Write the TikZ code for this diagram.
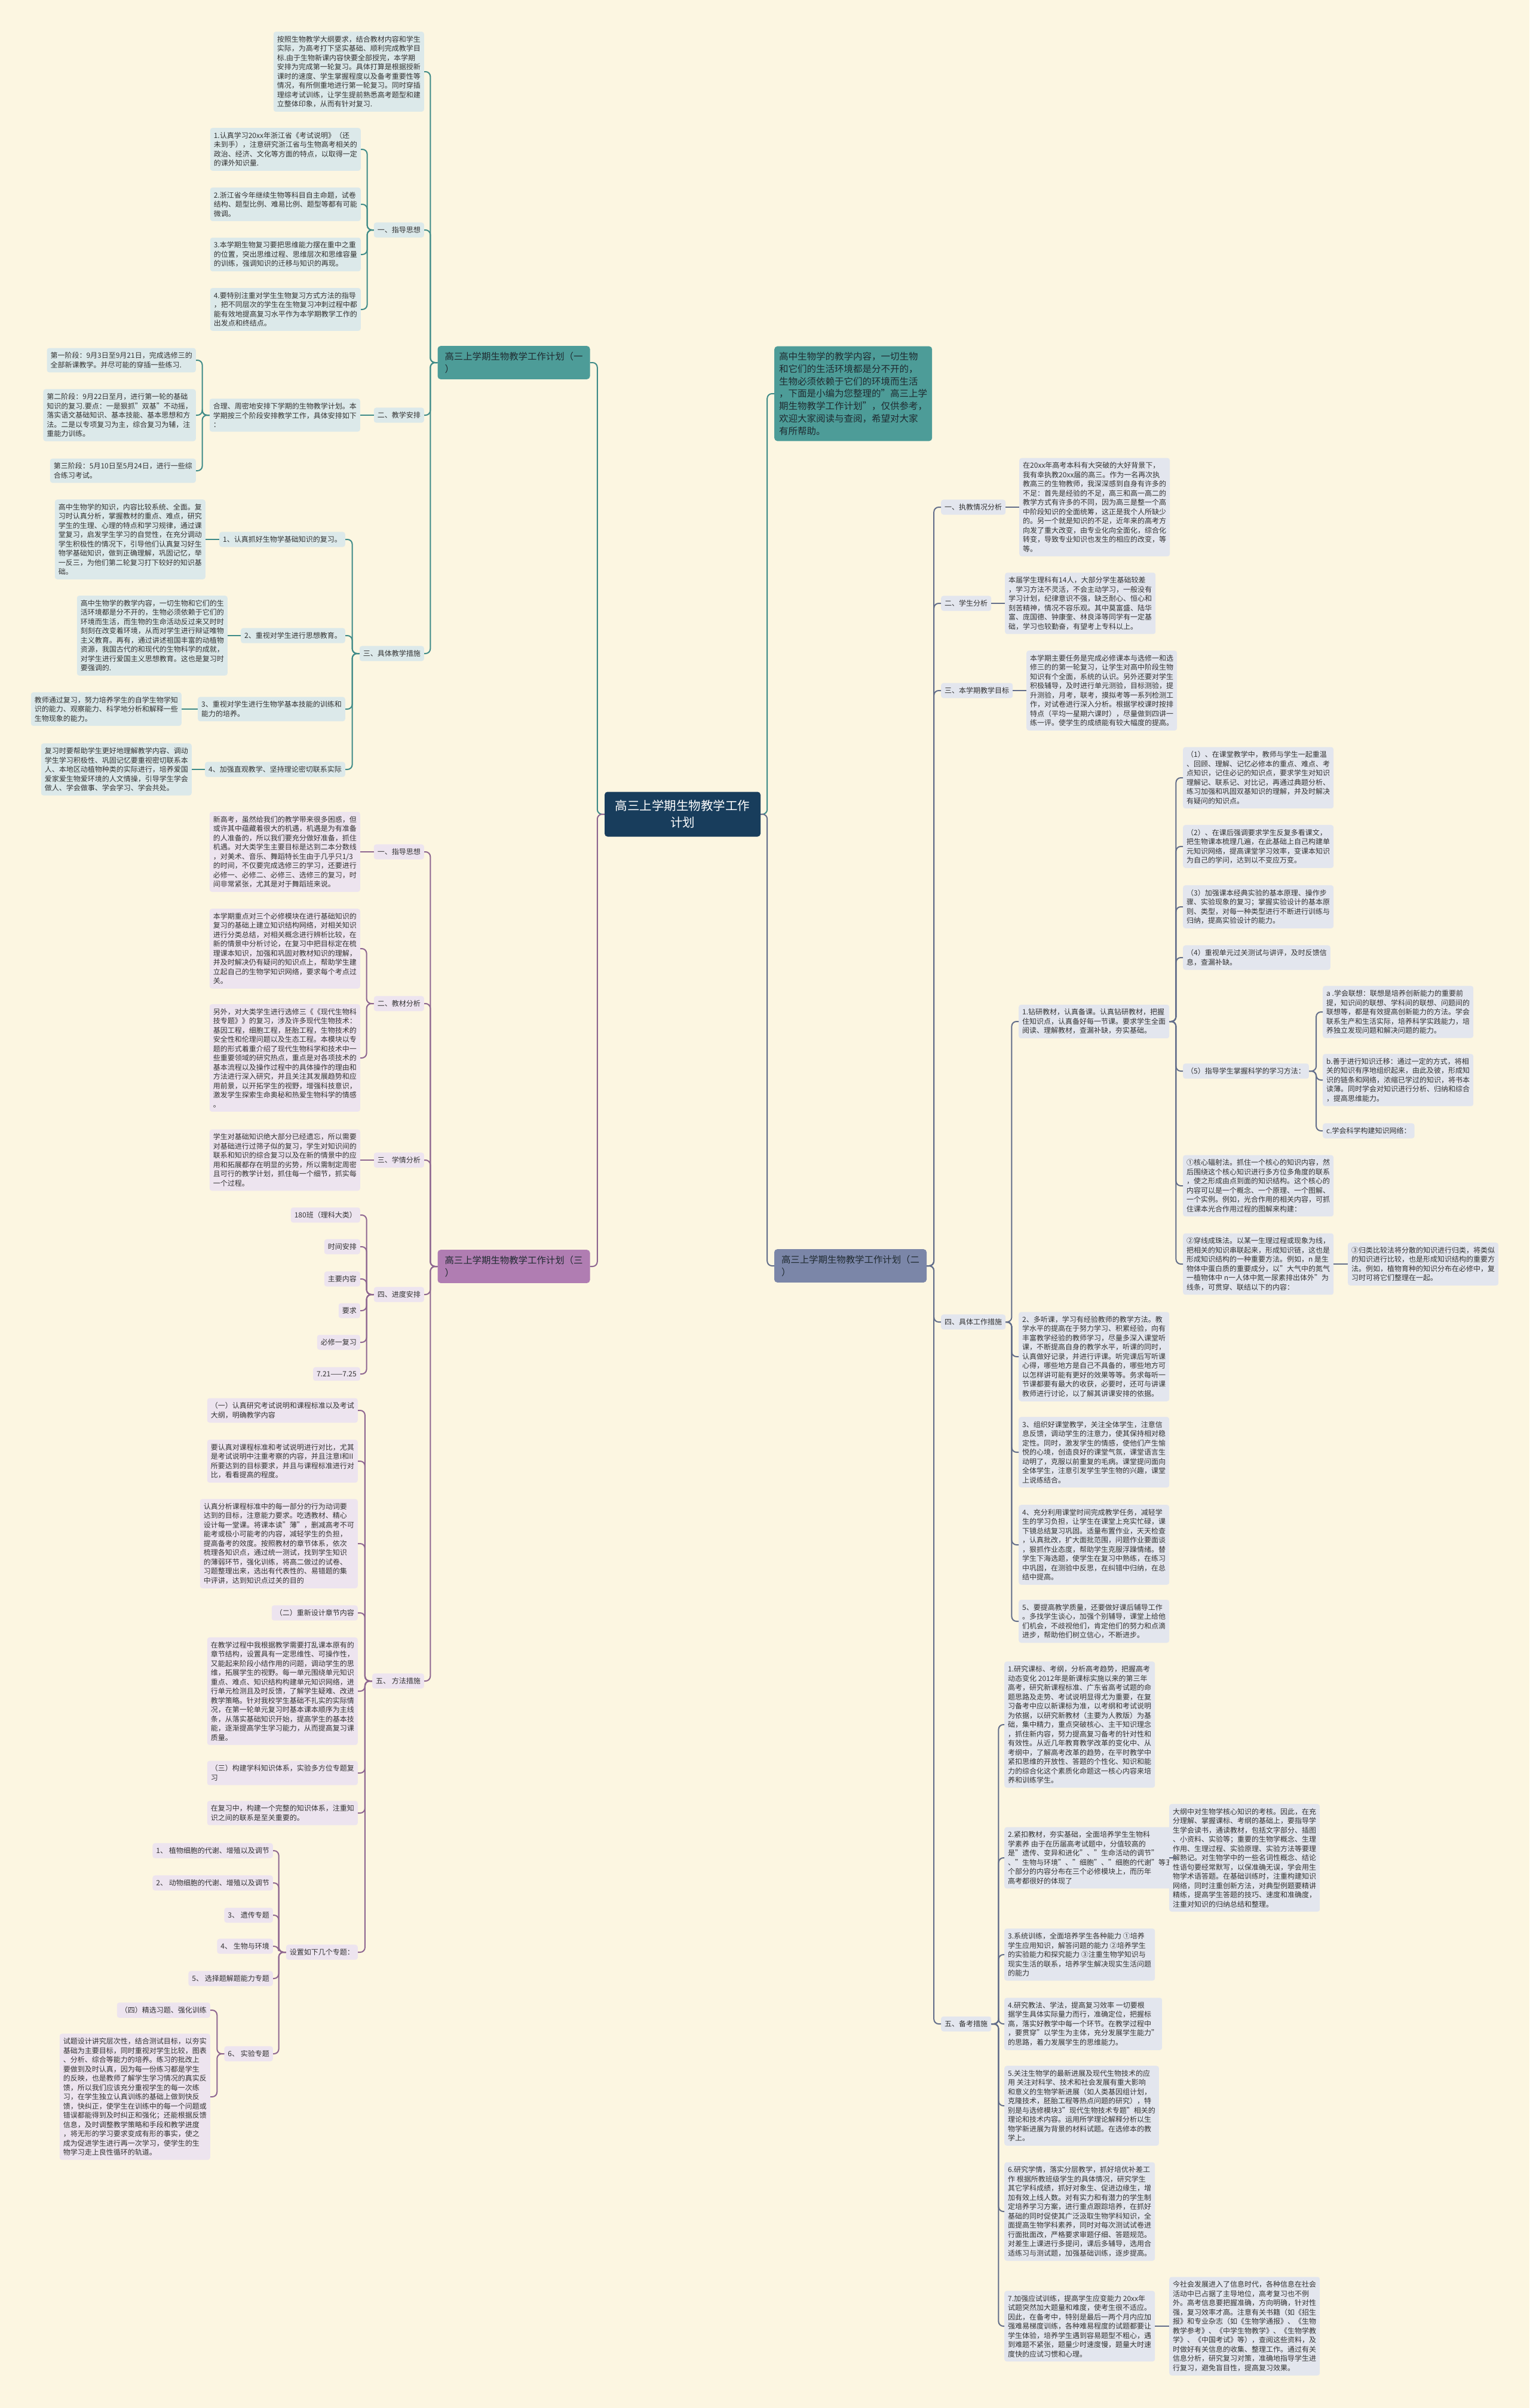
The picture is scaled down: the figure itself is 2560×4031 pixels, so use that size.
\documentclass[tikz,border=0pt]{standalone}
\usepackage{fontspec}
\setmainfont{Noto Sans CJK SC}
\definecolor{bgc}{HTML}{FCF6E1}
\definecolor{rootc}{HTML}{183D5C}
\definecolor{tealc}{HTML}{4D9C98}
\definecolor{teall}{HTML}{3F8B88}
\definecolor{tealf}{HTML}{DCE9EA}
\definecolor{purpc}{HTML}{B07DB2}
\definecolor{purpl}{HTML}{8E6690}
\definecolor{purpf}{HTML}{EDE4EF}
\definecolor{slatec}{HTML}{7B86A8}
\definecolor{slatel}{HTML}{636E8A}
\definecolor{slatef}{HTML}{E3E6EE}
\definecolor{inkc}{HTML}{333333}
\definecolor{darkc}{HTML}{1F2A30}
\tikzset{
  leaf/.style={rounded corners=4pt, inner xsep=6pt, inner ysep=7pt, align=left, text=inkc,
    font=\fontsize{12pt}{15.5pt}\selectfont},
  leafT/.style={leaf, fill=tealf},
  leafP/.style={leaf, fill=purpf},
  leafS/.style={leaf, fill=slatef},
  mainbox/.style={rounded corners=5pt, inner xsep=8pt, inner ysep=10pt, align=left, text=darkc,
    minimum width=255pt, font=\fontsize{15.4pt}{21pt}\selectfont},
  rootbox/.style={rounded corners=5pt, fill=rootc, text=white, align=center, minimum width=261pt,
    minimum height=75pt, font=\fontsize{20.5pt}{28pt}\selectfont},
  ln/.style={line width=2pt, rounded corners=8pt},
  lnT/.style={ln, draw=teall},
  lnP/.style={ln, draw=purpl},
  lnS/.style={ln, draw=slatel}
}
\begin{document}
\begin{tikzpicture}[x=1pt, y=-1pt]
\fill[bgc] (0,0) rectangle (2560,4031);
\useasboundingbox (0,0) rectangle (2560,4031);

% centre and main branches
\node[rootbox] (root) at (1142.5,1363) {高三上学期生物教学工作\\计划};
\node[mainbox, fill=tealc] (b1) at (860,607) {高三上学期生物教学工作计划（一\\）};
\node[mainbox, fill=purpc] (b3) at (860,2120) {高三上学期生物教学工作计划（三\\）};
\node[mainbox, fill=slatec] (b2) at (1423.5,2119) {高三上学期生物教学工作计划（二\\）};
\node[mainbox, fill=tealc, anchor=west, font=\fontsize{15.5pt}{20.7pt}\selectfont] (intro) at (1296,659) {高中生物学的教学内容，一切生物\\和它们的生活环境都是分不开的，\\生物必须依赖于它们的环境而生活\\，下面是小编为您整理的"高三上学\\期生物教学工作计划"，仅供参考，\\欢迎大家阅读与查阅，希望对大家\\有所帮助。};

% plan one
\node[leafT, anchor=east] (t1) at (710,120) {按照生物教学大纲要求，结合教材内容和学生\\实际，为高考打下坚实基础、顺利完成教学目\\标.由于生物新课内容快要全部授完，本学期\\安排为完成第一轮复习。具体打算是根据授新\\课时的速度、学生掌握程度以及备考重要性等\\情况，有所侧重地进行第一轮复习。同时穿插\\理综考试训练，让学生提前熟悉高考题型和建\\立整体印象，从而有针对复习.};
\node[leafT, anchor=east] (g1) at (710,385) {一、指导思想};
\node[leafT, anchor=east] (g2) at (710,695) {二、教学安排};
\node[leafT, anchor=east] (g3) at (710,1094) {三、具体教学措施};
\node[leafT, anchor=east] (i1) at (604,250) {1.认真学习20xx年浙江省《考试说明》（还\\未到手），注意研究浙江省与生物高考相关的\\政治、经济、文化等方面的特点，以取得一定\\的课外知识量.};
\node[leafT, anchor=east] (i2) at (604,342) {2.浙江省今年继续生物等科目自主命题，试卷\\结构、题型比例、难易比例、题型等都有可能\\微调。};
\node[leafT, anchor=east] (i3) at (604,426) {3.本学期生物复习要把思维能力摆在重中之重\\的位置，突出思维过程、思维层次和思维容量\\的训练，强调知识的迁移与知识的再现。};
\node[leafT, anchor=east] (i4) at (604,518) {4.要特别注重对学生生物复习方式方法的指导\\，把不同层次的学生在生物复习冲刺过程中都\\能有效地提高复习水平作为本学期教学工作的\\出发点和终结点。};
\node[leafT, anchor=east] (s0) at (603,695) {合理、周密地安排下学期的生物教学计划。本\\学期按三个阶段安排教学工作，具体安排如下\\：};
\node[leafT, anchor=east] (st1) at (328,603) {第一阶段：9月3日至9月21日，完成选修三的\\全部新课教学。并尽可能的穿插一些练习.};
\node[leafT, anchor=east] (st2) at (328,695) {第二阶段：9月22日至月，进行第一轮的基础\\知识的复习.要点：一是狠抓"双基"不动摇，\\落实语文基础知识、基本技能、基本思想和方\\法。二是以专项复习为主，综合复习为辅，注\\重能力训练。};
\node[leafT, anchor=east] (st3) at (328,788) {第三阶段：5月10日至5月24日，进行一些综\\合练习考试。};
\node[leafT, anchor=east] (m1) at (578,903) {1、认真抓好生物学基础知识的复习。};
\node[leafT, anchor=east] (m2) at (578,1064) {2、重视对学生进行思想教育。};
\node[leafT, anchor=east] (m3) at (578,1187) {3、重视对学生进行生物学基本技能的训练和\\能力的培养。};
\node[leafT, anchor=east] (m4) at (578,1288) {4、加强直观教学、坚持理论密切联系实际};
\node[leafT, anchor=east] (m1t) at (344,903) {高中生物学的知识，内容比较系统、全面。复\\习时认真分析，掌握教材的重点、难点，研究\\学生的生理、心理的特点和学习规律，通过课\\堂复习，启发学生学习的自觉性，在充分调动\\学生积极性的情况下，引导他们认真复习好生\\物学基础知识，做到正确理解，巩固记忆，举\\一反三，为他们第二轮复习打下较好的知识基\\础。};
\node[leafT, anchor=east] (m2t) at (381,1064) {高中生物学的教学内容，一切生物和它们的生\\活环境都是分不开的，生物必须依赖于它们的\\环境而生活，而生物的生命活动反过来又时时\\刻刻在改变着环境，从而对学生进行辩证唯物\\主义教育。再有，通过讲述祖国丰富的动植物\\资源，我国古代的和现代的生物科学的成就，\\对学生进行爱国主义思想教育。这也是复习时\\要强调的.};
\node[leafT, anchor=east] (m3t) at (304,1187) {教师通过复习，努力培养学生的自学生物学知\\识的能力、观察能力、科学地分析和解释一些\\生物现象的能力。};
\node[leafT, anchor=east] (m4t) at (321,1288) {复习时要帮助学生更好地理解教学内容、调动\\学生学习积极性、巩固记忆要重视密切联系本\\人、本地区动植物种类的实际进行，培养爱国\\爱家爱生物爱环境的人文情操，引导学生学会\\做人、学会做事、学会学习、学会共处。};

% plan three
\node[leafP, anchor=east] (h1) at (710,1426) {一、指导思想};
\node[leafP, anchor=east] (h2) at (710,1680) {二、教材分析};
\node[leafP, anchor=east] (h3) at (710,1942) {三、学情分析};
\node[leafP, anchor=east] (h4) at (710,2167) {四、进度安排};
\node[leafP, anchor=east] (h5) at (710,2814) {五、\ 方法措施};
\node[leafP, anchor=east] (h1t) at (603,1426) {新高考，虽然给我们的教学带来很多困惑，但\\或许其中蕴藏着很大的机遇，机遇是为有准备\\的人准备的，所以我们要充分做好准备，抓住\\机遇。对大类学生主要目标是达到二本分数线\\，对美术、音乐、舞蹈特长生由于几乎只1/3\\的时间，不仅要完成选修三的学习，还要进行\\必修一、必修二、必修三、选修三的复习，时\\间非常紧张，尤其是对于舞蹈班来说。};
\node[leafP, anchor=east] (h2a) at (603,1588) {本学期重点对三个必修模块在进行基础知识的\\复习的基础上建立知识结构网络，对相关知识\\进行分类总结，对相关概念进行辨析比较，在\\新的情景中分析讨论，在复习中把目标定在梳\\理课本知识，加强和巩固对教材知识的理解，\\并及时解决仍有疑问的知识点上，帮助学生建\\立起自己的生物学知识网络，要求每个考点过\\关。};
\node[leafP, anchor=east] (h2b) at (603,1771) {另外，对大类学生进行选修三《《现代生物科\\技专题》》的复习，涉及许多现代生物技术：\\基因工程，细胞工程，胚胎工程，生物技术的\\安全性和伦理问题以及生态工程。本模块以专\\题的形式着重介绍了现代生物科学和技术中一\\些重要领域的研究热点，重点是对各项技术的\\基本流程以及操作过程中的具体操作的理由和\\方法进行深入研究，并且关注其发展趋势和应\\用前景，以开拓学生的视野，增强科技意识，\\激发学生探索生命奥秘和热爱生物科学的情感\\。};
\node[leafP, anchor=east] (h3t) at (603,1942) {学生对基础知识绝大部分已经遗忘，所以需要\\对基础进行过筛子似的复习，学生对知识间的\\联系和知识的综合复习以及在新的情景中的应\\用和拓展都存在明显的劣势，所以需制定周密\\且可行的教学计划，抓住每一个细节，抓实每\\一个过程。};
\node[leafP, anchor=east] (j1) at (603,2034) {180班（理科大类）};
\node[leafP, anchor=east] (j2) at (603,2087) {时间安排};
\node[leafP, anchor=east] (j3) at (603,2141) {主要内容};
\node[leafP, anchor=east] (j4) at (603,2194) {要求};
\node[leafP, anchor=east] (j5) at (603,2247) {必修一复习};
\node[leafP, anchor=east] (j6) at (603,2300) {7.21——7.25};
\node[leafP, anchor=east] (p1) at (599,2361) {（一）认真研究考试说明和课程标准以及考试\\大纲，明确教学内容};
\node[leafP, anchor=east] (p2) at (599,2446) {要认真对课程标准和考试说明进行对比，尤其\\是考试说明中注重考察的内容，并且注意I和II\\所要达到的目标要求，并且与课程标准进行对\\比，看看提高的程度。};
\node[leafP, anchor=east] (p3) at (599,2584) {认真分析课程标准中的每一部分的行为动词要\\达到的目标，注意能力要求。吃透教材、精心\\设计每一堂课。将课本读"薄"，删减高考不可\\能考或极小可能考的内容，减轻学生的负担，\\提高备考的效度。按照教材的章节体系，依次\\梳理各知识点，通过统一测试，找到学生知识\\的薄弱环节，强化训练，将高二做过的试卷、\\习题整理出来，选出有代表性的、易错题的集\\中评讲，达到知识点过关的目的};
\node[leafP, anchor=east] (p4) at (599,2700) {（二）重新设计章节内容};
\node[leafP, anchor=east] (p5) at (599,2831) {在教学过程中我根据教学需要打乱课本原有的\\章节结构，设置具有一定思维性、可操作性，\\又能起来阶段小结作用的问题，调动学生的思\\维，拓展学生的视野。每一单元围绕单元知识\\重点、难点、知识结构构建单元知识网络，进\\行单元检测且及时反馈，了解学生疑难、改进\\教学策略。针对我校学生基础不扎实的实际情\\况，在第一轮单元复习时基本课本顺序为主线\\条，从落实基础知识开始，提高学生的基本技\\能，逐渐提高学生学习能力，从而提高复习课\\质量。};
\node[leafP, anchor=east] (p6) at (599,2968) {（三）构建学科知识体系，实验多方位专题复\\习};
\node[leafP, anchor=east] (p7) at (599,3035) {在复习中，构建一个完整的知识体系，注重知\\识之间的联系是至关重要的。};
\node[leafP, anchor=east] (p8) at (599,3268) {设置如下几个专题：};
\node[leafP, anchor=east] (q1) at (457,3098) {1、\ 植物细胞的代谢、增殖以及调节};
\node[leafP, anchor=east] (q2) at (457,3152) {2、\ 动物细胞的代谢、增殖以及调节};
\node[leafP, anchor=east] (q3) at (457,3206) {3、\ 遗传专题};
\node[leafP, anchor=east] (q4) at (457,3258) {4、\ 生物与环境};
\node[leafP, anchor=east] (q5) at (457,3312) {5、\ 选择题解题能力专题};
\node[leafP, anchor=east] (q6) at (457,3438) {6、\ 实验专题};
\node[leafP, anchor=east] (r1) at (352,3365) {（四）精选习题、强化训练};
\node[leafP, anchor=east] (r2) at (352,3510) {试题设计讲究层次性，结合测试目标，以夯实\\基础为主要目标，同时重视对学生比较，图表\\、分析、综合等能力的培养。练习的批改上\\要做到及时认真，因为每一份练习都是学生\\的反映，也是教师了解学生学习情况的真实反\\馈，所以我们应该充分重视学生的每一次练\\习，在学生独立认真训练的基础上做到快反\\馈，快纠正，使学生在训练中的每一个问题或\\错误都能得到及时纠正和强化；还能根据反馈\\信息，及时调整教学策略和手段和教学进度\\，将无形的学习要求变成有形的事实，使之\\成为促进学生进行再一次学习，使学生的生\\物学习走上良性循环的轨道。};

% plan two
\node[leafS, anchor=west] (k1) at (1575,849) {一、执教情况分析};
\node[leafS, anchor=west] (k2) at (1575,1010) {二、学生分析};
\node[leafS, anchor=west] (k3) at (1575,1156) {三、本学期教学目标};
\node[leafS, anchor=west] (k4) at (1575,2213) {四、具体工作措施};
\node[leafS, anchor=west] (k5) at (1575,3388) {五、备考措施};
\node[leafS, anchor=west] (k1t) at (1706,849) {在20xx年高考本科有大突破的大好背景下，\\我有幸执教20xx届的高三。作为一名再次执\\教高三的生物教师，我深深感到自身有许多的\\不足：首先是经验的不足，高三和高一高二的\\教学方式有许多的不同，因为高三是整一个高\\中阶段知识的全面统筹，这正是我个人所缺少\\的。另一个就是知识的不足，近年来的高考方\\向发了重大改变，由专业化向全面化，综合化\\转变，导致专业知识也发生的相应的改变，等\\等。};
\node[leafS, anchor=west] (k2t) at (1682,1010) {本届学生理科有14人，大部分学生基础较差\\，学习方法不灵活，不会主动学习，一般没有\\学习计划，纪律意识不强，缺乏耐心、恒心和\\刻苦精神，情况不容乐观。其中莫富盛、陆华\\富、庞国德、钟康奎、林良泽等同学有一定基\\础，学习也较勤奋，有望考上专科以上。};
\node[leafS, anchor=west] (k3t) at (1718,1156) {本学期主要任务是完成必修课本与选修一和选\\修三的的第一轮复习，让学生对高中阶段生物\\知识有个全面，系统的认识。另外还要对学生\\积极辅导，及时进行单元测验，目标测验，提\\升测验，月考，联考，摸拟考等一系列检测工\\作，对试卷进行深入分析。根据学校课时按排\\特点（平均一星期六课时），尽量做到四讲一\\练一评。使学生的成绩能有较大幅度的提高。};
\node[leafS, anchor=west] (w1) at (1705,1710) {1.钻研教材，认真备课。认真钻研教材，把握\\住知识点，认真备好每一节课。要求学生全面\\阅读、理解教材，查漏补缺，夯实基础。};
\node[leafS, anchor=west] (w2) at (1705,2271) {2、多听课，学习有经验教师的教学方法。教\\学水平的提高在于努力学习、积累经验，向有\\丰富教学经验的教师学习，尽量多深入课堂听\\课，不断提高自身的教学水平，听课的同时，\\认真做好记录，并进行评课。听完课后写听课\\心得，哪些地方是自己不具备的，哪些地方可\\以怎样讲可能有更好的效果等等。务求每听一\\节课都要有最大的收获，必要时，还可与讲课\\教师进行讨论，以了解其讲课安排的依据。};
\node[leafS, anchor=west] (w3) at (1705,2431) {3、组织好课堂教学，关注全体学生，注意信\\息反馈，调动学生的注意力，使其保持相对稳\\定性。同时，激发学生的情感，使他们产生愉\\悦的心境，创造良好的课堂气氛，课堂语言生\\动明了，克服以前重复的毛病。课堂提问面向\\全体学生，注意引发学生学生物的兴趣，课堂\\上说练结合。};
\node[leafS, anchor=west] (w4) at (1705,2586) {4、充分利用课堂时间完成教学任务，减轻学\\生的学习负担，让学生在课堂上充实忙碌，课\\下镜总结复习巩固。适量布置作业，天天检查\\，认真批改，扩大面批范围，问题作业要面谈\\，狠抓作业态度，帮助学生克服浮躁情绪。替\\学生下海选题，使学生在复习中熟练，在练习\\中巩固，在测验中反思，在纠错中归纳，在总\\结中提高。};
\node[leafS, anchor=west] (w5) at (1705,2714) {5、要提高教学质量，还要做好课后辅导工作\\。多找学生谈心，加强个别辅导，课堂上给他\\们机会，不歧视他们，肯定他们的努力和点滴\\进步，帮助他们树立信心，不断进步。};
\node[leafS, anchor=west] (x1) at (1980,1302) {（1）、在课堂教学中，教师与学生一起重温\\、回顾、理解、记忆必修本的重点、难点、考\\点知识，记住必记的知识点，要求学生对知识\\理解记、联系记、对比记，再通过典题分析、\\练习加强和巩固双基知识的理解，并及时解决\\有疑问的知识点。};
\node[leafS, anchor=west] (x2) at (1980,1417) {（2）、在课后强调要求学生反复多看课文，\\把生物课本梳理几遍，在此基础上自己构建单\\元知识网络，提高课堂学习效率，变课本知识\\为自己的学问，达到以不变应万变。};
\node[leafS, anchor=west] (x3) at (1980,1518) {（3）加强课本经典实验的基本原理、操作步\\骤、实验现象的复习；掌握实验设计的基本原\\则、类型，对每一种类型进行不断进行训练与\\归纳，提高实验设计的能力。};
\node[leafS, anchor=west] (x4) at (1980,1603) {（4）重视单元过关测试与讲评，及时反馈信\\息，查漏补缺。};
\node[leafS, anchor=west] (x5) at (1980,1793) {（5）指导学生掌握科学的学习方法：};
\node[leafS, anchor=west] (x6) at (1980,1985) {①核心辐射法。抓住一个核心的知识内容，然\\后围绕这个核心知识进行多方位多角度的联系\\，使之形成由点到面的知识结构。这个核心的\\内容可以是一个概念、一个原理、一个图解、\\一个实例。例如，光合作用的相关内容，可抓\\住课本光合作用过程的图解来构建：};
\node[leafS, anchor=west] (x7) at (1980,2116) {②穿线成珠法。以某一生理过程或现象为线，\\把相关的知识串联起来，形成知识链，这也是\\形成知识结构的一种重要方法。例如，n 是生\\物体中蛋白质的重要成分，以"大气中的氮气\\一植物体中 n一人体中氮一尿素排出体外"为\\线条，可贯穿、联结以下的内容：};
\node[leafS, anchor=west] (xa) at (2214,1694) {a .学会联想：联想是培养创新能力的重要前\\提，知识间的联想、学科间的联想、问题间的\\联想等，都是有效提高创新能力的方法。学会\\联系生产和生活实际，培养科学实践能力，培\\养独立发现问题和解决问题的能力。};
\node[leafS, anchor=west] (xb) at (2214,1808) {b.善于进行知识迁移：通过一定的方式，将相\\关的知识有序地组织起来，由此及彼，形成知\\识的链条和网络，浓缩已学过的知识，将书本\\读薄。同时学会对知识进行分析、归纳和综合\\，提高思维能力。};
\node[leafS, anchor=west] (xc) at (2214,1893) {c.学会科学构建知识网络：};
\node[leafS, anchor=west] (x8) at (2256,2116) {③归类比较法将分散的知识进行归类，将类似\\的知识进行比较，也是形成知识结构的重要方\\法。例如，植物育种的知识分布在必修中，复\\习时可将它们整理在一起。};
\node[leafS, anchor=west] (y1) at (1681,2887) {1.研究课标、考纲，分析高考趋势，把握高考\\动态变化 2012年是新课标实施以来的第三年\\高考，研究新课程标准、广东省高考试题的命\\题思路及走势、考试说明显得尤为重要，在复\\习备考中应以新课标为准，以考纲和考试说明\\为依据，以研究新教材（主要为人教版）为基\\础，集中精力，重点突破核心、主干知识理念\\，抓住新内容，努力提高复习备考的针对性和\\有效性。从近几年教育教学改革的变化中、从\\考纲中，了解高考改革的趋势，在平时教学中\\紧扣思维的开放性、答题的个性化、知识和能\\力的综合化这个素质化命题这一核心内容来培\\养和训练学生。};
\node[leafS, anchor=west] (y2) at (1681,3110) {2.紧扣教材，夯实基础，全面培养学生生物科\\学素养 由于在历届高考试题中，分值较高的\\是"遗传、变异和进化"、"生命活动的调节"\\、"生物与环境"、"细胞"、"细胞的代谢"等五\\个部分的内容分布在三个必修模块上，而历年\\高考都很好的体现了};
\node[leafS, anchor=west] (y2c) at (1957,3110) {大纲中对生物学核心知识的考核。因此，在充\\分理解、掌握课标、考纲的基础上，要指导学\\生学会读书，通读教材，包括文字部分、插图\\、小资料、实验等；重要的生物学概念、生理\\作用、生理过程、实验原理、实验方法等要理\\解熟记。对生物学中的一些名词性概念、结论\\性语句要经常默写，以保准确无误，学会用生\\物学术语答题。在基础训练时，注重构建知识\\网络，同时注重创新方法，对典型例题要精讲\\精练，提高学生答题的技巧、速度和准确度，\\注重对知识的归纳总结和整理。};
\node[leafS, anchor=west] (y3) at (1681,3272) {3.系统训练，全面培养学生各种能力 ①培养\\学生应用知识，解答问题的能力 ②培养学生\\的实验能力和探究能力 ③注重生物学知识与\\现实生活的联系，培养学生解决现实生活问题\\的能力};
\node[leafS, anchor=west] (y4) at (1681,3388) {4.研究教法、学法，提高复习效率 一切要根\\据学生具体实际量力而行，准确定位，把握标\\高，落实好教学中每一个环节。在教学过程中\\，要贯穿"以学生为主体，充分发展学生能力"\\的思路，着力发展学生的思维能力。};
\node[leafS, anchor=west] (y5) at (1681,3525) {5.关注生物学的最新进展及现代生物技术的应\\用 关注对科学、技术和社会发展有重大影响\\和意义的生物学新进展（如人类基因组计划，\\克隆技术，胚胎工程等热点问题的研究），特\\别是与选修模块3"现代生物技术专题"相关的\\理论和技术内容。运用所学理论解释分析以生\\物学新进展为背景的材料试题。在选修本的教\\学上。};
\node[leafS, anchor=west] (y6) at (1681,3702) {6.研究学情，落实分层教学，抓好培优补差工\\作 根据所教班级学生的具体情况，研究学生\\其它学科成绩，抓好对象生、促进边缘生，增\\加有效上线人数。对有实力和有潜力的学生制\\定培养学习方案，进行重点跟踪培养，在抓好\\基础的同时促使其广泛汲取生物学科知识，全\\面提高生物学科素养，同时对每次测试试卷进\\行面批面改，严格要求审题仔细、答题规范。\\对差生上课进行多提问，课后多辅导，选用合\\适练习与测试题，加强基础训练，逐步提高。};
\node[leafS, anchor=west] (y7) at (1681,3894) {7.加强应试训练，提高学生应变能力 20xx年\\试题突然加大题量和难度，使考生很不适应。\\因此，在备考中，特别是最后一两个月内应加\\强难易梯度训练，各种难易程度的试题都要让\\学生体验，培养学生遇到容易题型不粗心，遇\\到难题不紧张，题量少时速度慢，题量大时速\\度快的应试习惯和心理。};
\node[leafS, anchor=west] (y7c) at (1957,3894) {今社会发展进入了信息时代，各种信息在社会\\活动中已占据了主导地位，高考复习也不例\\外。高考信息要把握准确，方向明确，针对性\\强，复习效率才高。注意有关书籍（如《招生\\报》和专业杂志（如《生物学通报》、《生物\\教学参考》、《中学生物教学》、《生物学教\\学》、《中国考试》等），查阅这些资料，及\\时做好有关信息的收集、整理工作。通过有关\\信息分析，研究复习对策，准确地指导学生进\\行复习，避免盲目性，提高复习效果。};

% connectors from the centre
\draw[lnT] (root.west) -- ++(-12,0) |- (b1.east);
\draw[lnP] (root.west) -- ++(-12,0) |- (b3.east);
\draw[lnT] (root.east) -- ++(11,0) |- (intro.west);
\draw[lnS] (root.east) -- ++(11,0) |- (b2.west);

% connectors, plan one
\foreach \n in {t1,g1,g2,g3} \draw[lnT] (b1.west) -- ++(-12,0) |- (\n.east);
\foreach \n in {i1,i2,i3,i4} \draw[lnT] (g1.west) -- ++(-11,0) |- (\n.east);
\draw[lnT] (g2.west) -- (s0.east);
\foreach \n in {st1,st2,st3} \draw[lnT] (s0.west) -- ++(-12,0) |- (\n.east);
\foreach \n in {m1,m2,m3,m4} \draw[lnT] (g3.west) -- ++(-12,0) |- (\n.east);
\foreach \n in {1,2,3,4} \draw[lnT] (m\n.west) -- (m\n t.east);

% connectors, plan three
\foreach \n in {h1,h2,h3,h4,h5} \draw[lnP] (b3.west) -- ++(-12,0) |- (\n.east);
\draw[lnP] (h1.west) -- (h1t.east);
\foreach \n in {h2a,h2b} \draw[lnP] (h2.west) -- ++(-12,0) |- (\n.east);
\draw[lnP] (h3.west) -- (h3t.east);
\foreach \n in {j1,j2,j3,j4,j5,j6} \draw[lnP] (h4.west) -- ++(-12,0) |- (\n.east);
\foreach \n in {p1,p2,p3,p4,p5,p6,p7,p8} \draw[lnP] (h5.west) -- ++(-12,0) |- (\n.east);
\foreach \n in {q1,q2,q3,q4,q5,q6} \draw[lnP] (p8.west) -- ++(-12,0) |- (\n.east);
\foreach \n in {r1,r2} \draw[lnP] (q6.west) -- ++(-12,0) |- (\n.east);

% connectors, plan two
\foreach \n in {k1,k2,k3,k4,k5} \draw[lnS] (b2.east) -- ++(12,0) |- (\n.west);
\foreach \n in {1,2,3} \draw[lnS] (k\n.east) -- (k\n t.west);
\foreach \n in {w1,w2,w3,w4,w5} \draw[lnS] (k4.east) -- ++(10,0) |- (\n.west);
\foreach \n in {x1,x2,x3,x4,x5,x6,x7} \draw[lnS] (w1.east) -- ++(11,0) |- (\n.west);
\foreach \n in {xa,xb,xc} \draw[lnS] (x5.east) -- ++(12,0) |- (\n.west);
\draw[lnS] (x7.east) -- (x8.west);
\foreach \n in {y1,y2,y3,y4,y5,y6,y7} \draw[lnS] (k5.east) -- ++(12,0) |- (\n.west);
\draw[lnS] (y2.east) -- (y2c.west);
\draw[lnS] (y7.east) -- (y7c.west);
\end{tikzpicture}
\end{document}
